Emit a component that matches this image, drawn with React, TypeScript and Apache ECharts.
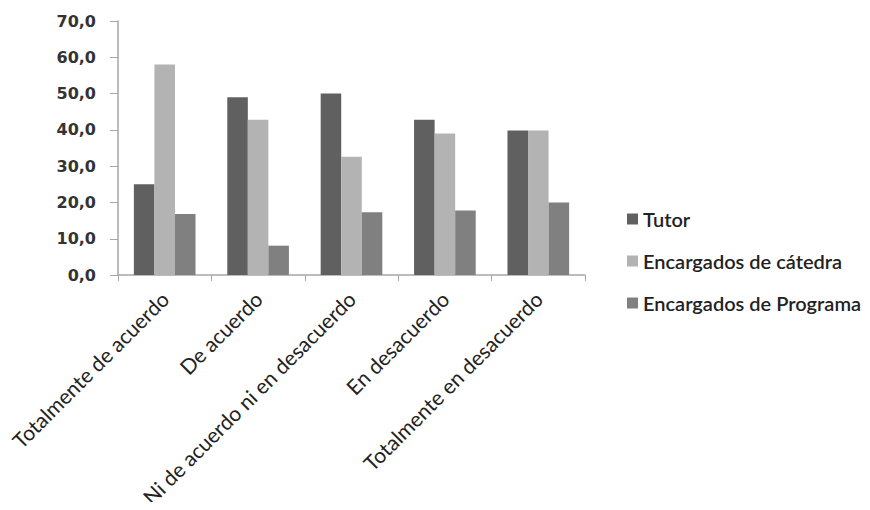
import React, { useEffect, useRef } from "react";
import * as echarts from "echarts";

const categories = [
  "Totalmente de acuerdo",
  "De acuerdo",
  "Ni de acuerdo ni en desacuerdo",
  "En desacuerdo",
  "Totalmente en desacuerdo",
];
const seriesNames = ["Tutor", "Encargados de cátedra", "Encargados de Programa"];
const tutor = [25.0, 49.0, 50.0, 42.8, 39.8];
const catedra = [58.0, 42.8, 32.6, 39.0, 39.8];
const programa = [16.8, 8.1, 17.3, 17.8, 20.0];
const colors = ["#606060", "#b3b3b3", "#808080"];

export default function App() {
  const ref = useRef<HTMLDivElement>(null);
  useEffect(() => {
    const chart = echarts.init(ref.current!, null, { renderer: "svg" });
    const data = [tutor, catedra, programa];
    chart.setOption({
      animation: false,
      backgroundColor: "#ffffff",
      grid: { left: 118, top: 21, right: 285, bottom: 233, containLabel: false },
      legend: {
        orient: "vertical",
        left: 622,
        top: 204,
        itemWidth: 11,
        itemHeight: 11,
        itemGap: 22,
        icon: "rect",
        textStyle: { fontFamily: "Lato", fontSize: 20, color: "#222", fontWeight: 600 },
        data: seriesNames,
      },
      xAxis: {
        type: "category",
        data: categories,
        axisLine: { lineStyle: { color: "#a6a6a6", width: 1.5 } },
        axisTick: { show: true, alignWithLabel: false, length: 6, lineStyle: { color: "#a6a6a6" } },
        axisLabel: {
          rotate: 45,
          interval: 0,
          margin: 20,
          fontFamily: "Lato",
          fontSize: 21,
          color: "#222",
        },
      },
      yAxis: {
        type: "value",
        min: 0,
        max: 70,
        interval: 10,
        axisLine: { show: true, lineStyle: { color: "#a6a6a6", width: 1.5 } },
        axisTick: { show: true, length: 8, lineStyle: { color: "#a6a6a6" } },
        splitLine: { show: false },
        axisLabel: {
          formatter: (v: number) => v.toFixed(1).replace(".", ","),
          fontFamily: "DejaVu Sans",
          fontSize: 16,
          fontWeight: "bold",
          color: "#333",
          margin: 22,
        },
      },
      series: seriesNames.map((name, i) => ({
        name,
        type: "bar",
        data: data[i],
        barGap: "0%",
        barCategoryGap: "34%",
        itemStyle: { color: colors[i] },
      })),
    });
    return () => chart.dispose();
  }, []);
  return <div ref={ref} style={{ width: 870, height: 510, margin: -8 }} />;
}
